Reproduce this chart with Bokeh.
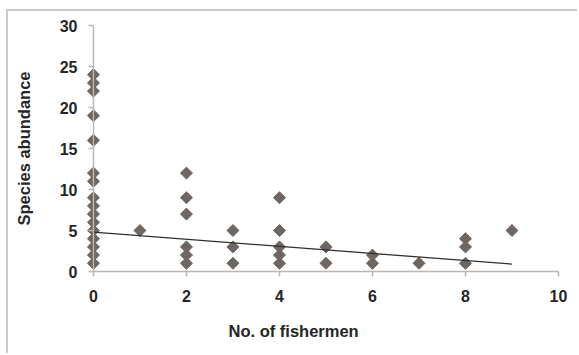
from bokeh.plotting import figure
from bokeh.models import ColumnDataSource, FixedTicker, Range1d, Title, Span
from bokeh.embed import file_html
from bokeh.resources import INLINE

# Number of fishermen at each site and the species abundance recorded there
fishermen = [0] * 16 + [1] + [2] * 6 + [3] * 3 + [4] * 5 + [5] * 2 + [6] * 2 + [7] + [8] * 3 + [9]
abundance = [1, 2, 3, 4, 5, 6, 7, 8, 9, 11, 12, 16, 19, 22, 23, 24,
             5,
             1, 2, 3, 7, 9, 12,
             1, 3, 5,
             1, 2, 3, 5, 9,
             1, 3,
             1, 2,
             1,
             1, 3, 4,
             5]

# Linear trend line end points
trend_x = [0, 9]
trend_y = [4.8, 0.9]

x_ticks = [0, 2, 4, 6, 8, 10]
y_ticks = [0, 5, 10, 15, 20, 25, 30]

TEXT = "#262626"
AXIS = "#bbb6b2"
MARK = "#6d6662"
FONT = "Liberation Sans"

# x starts a little below 0 so the markers sitting on x = 0 are drawn whole
p = figure(width=571, height=344, output_backend="svg", toolbar_location=None,
           x_range=Range1d(-0.3, 10), y_range=Range1d(0, 30),
           min_border_left=71, min_border_right=21, min_border_top=14, min_border_bottom=84)
p.background_fill_color = "white"
p.border_fill_color = "white"
p.outline_line_color = None
p.grid.visible = False
# light frame around the chart area
p.margin = (9, 0, 0, 6)
p.styles = {"border-top": "2px solid #cdc8c4", "border-left": "2px solid #cdc8c4"}

for ax, ticks in ((p.xaxis[0], x_ticks), (p.yaxis[0], y_ticks)):
    ax.ticker = FixedTicker(ticks=ticks)
    ax.axis_line_color = AXIS
    ax.axis_line_width = 1.5
    ax.major_tick_line_color = AXIS
    ax.major_tick_line_width = 1.5
    ax.major_tick_out = 5
    ax.major_tick_in = 0
    ax.minor_tick_line_color = None
    ax.major_label_text_font = FONT
    ax.major_label_text_font_style = "bold"
    ax.major_label_text_font_size = "16px"
    ax.major_label_text_color = TEXT

p.xaxis.bounds = (0, 10)
p.xaxis.major_label_standoff = 13

# the vertical axis line sits on x = 0, its ticks just to the left of it
p.yaxis.axis_line_color = None
p.yaxis.major_tick_out = -9
p.yaxis.major_tick_in = 14
p.yaxis.major_label_standoff = 2
p.add_layout(Span(location=0, dimension="height", line_color=AXIS, line_width=1.5))

p.yaxis.axis_label = "Species abundance"
p.yaxis.axis_label_text_font = FONT
p.yaxis.axis_label_text_font_style = "bold"
p.yaxis.axis_label_text_font_size = "16.5px"
p.yaxis.axis_label_text_color = TEXT
p.yaxis.axis_label_standoff = 24

src = ColumnDataSource(dict(x=fishermen, y=abundance))
p.scatter("x", "y", source=src, marker="square", angle=0.7853981634, size=8.5,
          fill_color=MARK, line_color=MARK)
p.line(trend_x, trend_y, line_color="#303030", line_width=1.3)

# x-axis title, placed below the tick labels
p.add_layout(Title(text="No. of fishermen", align="left", offset=149, standoff=30,
                   text_font=FONT, text_font_style="bold", text_font_size="16.5px",
                   text_color=TEXT), "below")

open("out.html", "w").write(file_html(p, INLINE))
